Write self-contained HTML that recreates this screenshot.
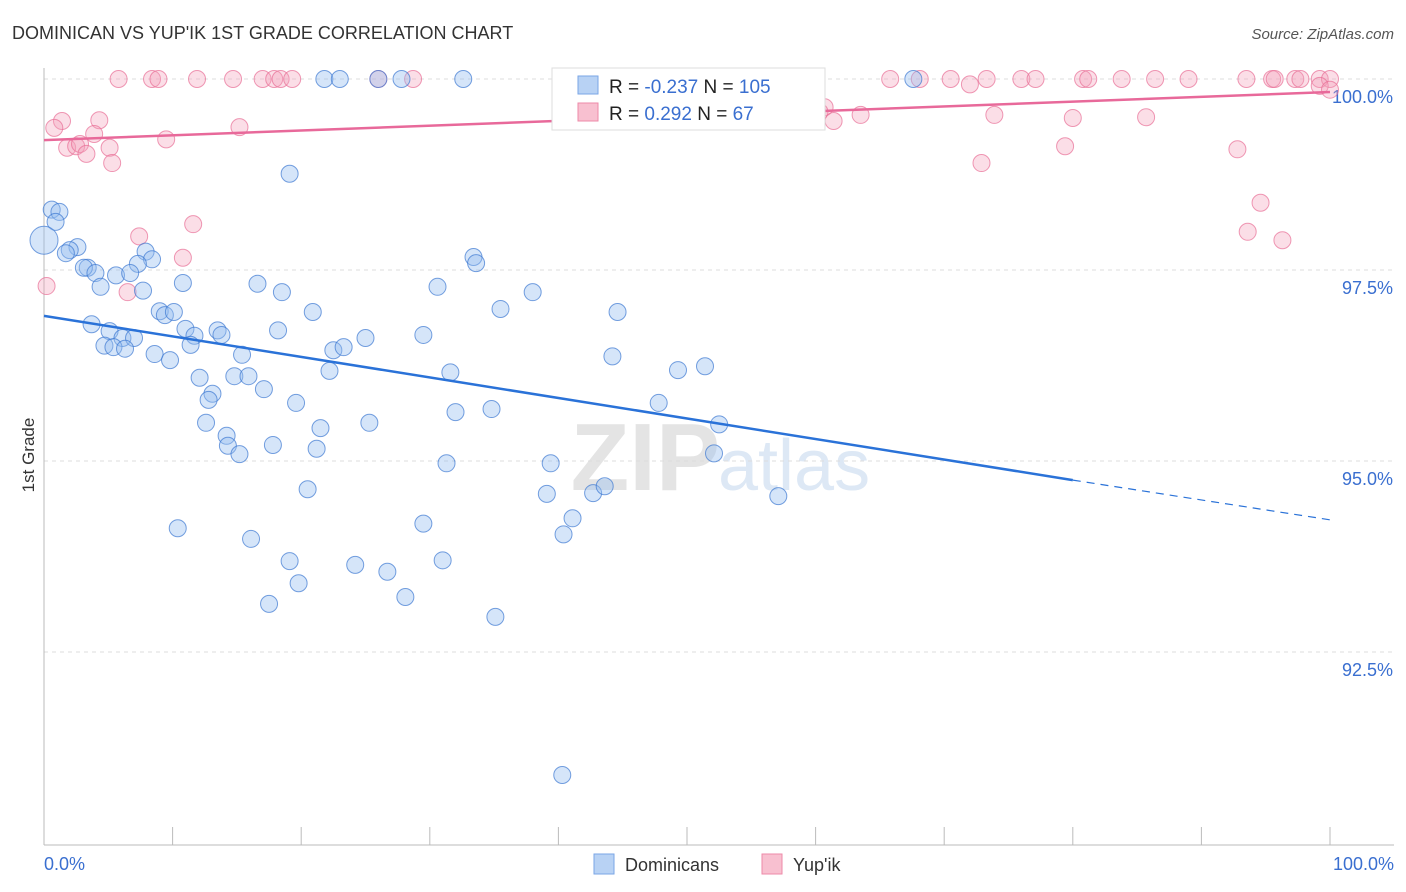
<!DOCTYPE html>
<html><head><meta charset="utf-8"><style>
body{margin:0;background:#fff;font-family:"Liberation Sans",sans-serif}
svg{display:block}
</style></head><body>
<svg id="chart" width="1406" height="892">
<text x="12" y="39" font-size="18" fill="#333">DOMINICAN VS YUP'IK 1ST GRADE CORRELATION CHART</text>
<text x="1394" y="39" font-size="15" fill="#555" font-style="italic" text-anchor="end">Source: ZipAtlas.com</text>
<text x="720" y="490" font-size="96" font-weight="bold" fill="#e4e4e4" text-anchor="end">ZIP</text>
<text x="718" y="490" font-size="72" fill="#dde8f5">atlas</text>
<g id="grid"></g>
<g id="axes"></g>
<g id="pts"></g>
<g id="trend"></g>
<text transform="translate(34,455) rotate(-90)" font-size="17" fill="#333" text-anchor="middle">1st Grade</text>
<text x="44" y="870" font-size="18" fill="#3a6fd0">0.0%</text>
<text x="1394" y="870" font-size="18" fill="#3a6fd0" text-anchor="end">100.0%</text>
<g>
<rect x="552" y="68" width="273" height="62" fill="#fff" stroke="#ddd"/>
<rect x="578" y="76" width="20" height="18" fill="#b8d2f4" stroke="#7aa6e6"/>
<rect x="578" y="103" width="20" height="18" fill="#f8c0d0" stroke="#ee8aa8"/>
<text x="609" y="93" font-size="19" fill="#222">R = <tspan fill="#3a6fd0">-0.237</tspan>   N = <tspan fill="#3a6fd0">105</tspan></text>
<text x="609" y="120" font-size="19" fill="#222">R =   <tspan fill="#3a6fd0">0.292</tspan>   N =   <tspan fill="#3a6fd0">67</tspan></text>
</g>
<g>
<rect x="594" y="854" width="20" height="20" fill="#b8d2f4" stroke="#7aa6e6"/>
<text x="625" y="871" font-size="18" fill="#333">Dominicans</text>
<rect x="762" y="854" width="20" height="20" fill="#f8c0d0" stroke="#ee8aa8"/>
<text x="793" y="871" font-size="18" fill="#333">Yup'ik</text>
</g>
</svg>
<script>
const yTicks=[100,97.5,95,92.5];
const yTickLabels=["100.0%","97.5%","95.0%","92.5%"];
const xTicks=[0,10,20,30,40,50,60,70,80,90,100];
const blueX=[21.8,23.0,26.0,27.8,32.6,67.6,19.1,0.6,1.2,0.9,0,2.6,2.0,1.7,7.9,8.4,7.3,3.4,3.1,4.0,5.6,6.7,4.4,7.7,10.8,16.6,18.5,33.4,33.6,30.6,38.0,3.7,9.0,9.4,10.1,20.9,35.5,44.6,5.1,6.1,7.0,11.0,11.7,13.5,13.8,18.2,25.0,29.5,4.7,5.4,6.3,11.4,8.6,9.8,15.4,22.5,23.3,44.2,22.2,31.6,49.3,51.4,12.1,14.8,15.9,17.1,13.1,12.8,19.6,32.0,34.8,47.8,52.5,12.6,21.5,25.3,14.2,14.3,15.2,17.8,21.2,31.3,39.4,52.1,20.5,39.1,42.7,43.6,57.1,10.4,29.5,41.1,40.4,16.1,19.1,31.0,24.2,26.7,19.8,17.5,28.1,35.1,40.3];
const blueY=[100,100,100,100,100,100,98.76,98.29,98.26,98.13,97.89,97.80,97.76,97.72,97.74,97.64,97.58,97.53,97.53,97.46,97.43,97.46,97.28,97.23,97.33,97.32,97.21,97.67,97.59,97.28,97.21,96.79,96.96,96.91,96.95,96.95,96.99,96.95,96.70,96.61,96.61,96.73,96.64,96.71,96.65,96.71,96.61,96.65,96.51,96.49,96.47,96.52,96.40,96.32,96.39,96.45,96.49,96.37,96.18,96.16,96.19,96.24,96.09,96.11,96.11,95.94,95.88,95.80,95.76,95.64,95.68,95.76,95.48,95.50,95.43,95.50,95.33,95.20,95.09,95.21,95.16,94.97,94.97,95.10,94.63,94.57,94.58,94.67,94.54,94.12,94.18,94.25,94.04,93.98,93.69,93.70,93.64,93.55,93.40,93.13,93.22,92.96,90.89];
const pinkX=[5.8,8.4,8.9,11.9,14.7,17.0,17.9,18.4,19.3,26.0,28.7,41.7,45.3,51.2,55.0,60.0,65.8,68.1,70.5,72.0,73.3,76.0,77.1,80.8,81.2,83.8,86.4,89.0,93.5,95.5,95.7,97.3,97.7,99.2,100,99.2,100,60.7,61.4,63.5,60.3,73.9,80.0,85.7,1.4,0.8,4.3,15.2,3.9,1.8,2.5,2.8,3.3,5.1,9.5,5.3,72.9,79.4,92.8,94.6,93.6,96.3,11.6,7.4,10.8,6.5,0.2];
const pinkY=[100,100,100,100,100,100,100,100,100,100,100,100,100,100,100,100,100,100,100,99.93,100,100,100,100,100,100,100,100,100,100,100,100,100,100,100,99.91,99.86,99.63,99.45,99.53,99.57,99.53,99.49,99.50,99.45,99.36,99.46,99.37,99.28,99.10,99.12,99.15,99.02,99.10,99.21,98.90,98.90,99.12,99.08,98.38,98.00,97.89,98.10,97.94,97.66,97.21,97.29];
const blueTrend=[[0,96.90],[80,94.75],[100,94.23]];
const pinkTrend=[[0,99.20],[100,99.83]];
const NS="http://www.w3.org/2000/svg";
const xs=v=>44+v*12.86, ys=v=>79+(100-v)*76.4;
function mk(tag,attrs,parent){const e=document.createElementNS(NS,tag);for(const k in attrs)e.setAttribute(k,attrs[k]);parent.appendChild(e);return e;}
const grid=document.getElementById('grid'),axes=document.getElementById('axes'),pts=document.getElementById('pts'),trend=document.getElementById('trend');
yTicks.forEach((t,i)=>{
 const l=mk('line',{x1:44,x2:1394,y1:ys(t),y2:ys(t),stroke:'#ddd','stroke-dasharray':'4,4'},grid);
 
 
 const tx=mk('text',{x:1393,y:ys(t)+24,'font-size':18,fill:'#3a6fd0','text-anchor':'end'},grid);
 tx.textContent=yTickLabels[i];
 
 
});
const ya=mk('line',{x1:44,x2:44,y1:68,y2:845,stroke:'#bbb'},axes);


const xa=mk('line',{x1:44,x2:1394,y1:845,y2:845,stroke:'#bbb'},axes);


xTicks.forEach(t=>{
 const l=mk('line',{x1:xs(t),x2:xs(t),y1:827,y2:845,stroke:'#bbb'},axes);
 
 
});
pinkX.forEach((x,i)=>{
 const c=mk('circle',{cx:xs(x),cy:ys(pinkY[i]),r:8.5,fill:'rgba(244,160,185,0.35)',stroke:'rgba(232,110,150,0.7)','stroke-width':1},pts);
 
 
});
blueX.forEach((x,i)=>{
 const c=mk('circle',{cx:xs(x),cy:ys(blueY[i]),r:(x===0?14:8.5),fill:'rgba(150,190,240,0.4)',stroke:'rgba(60,120,210,0.7)','stroke-width':1},pts);
 
 
});
const bl=mk('line',{x1:xs(blueTrend[0][0]),y1:ys(blueTrend[0][1]),x2:xs(blueTrend[1][0]),y2:ys(blueTrend[1][1]),stroke:'#2a72d8','stroke-width':2.5},trend);


const bd=mk('line',{x1:xs(blueTrend[1][0]),y1:ys(blueTrend[1][1]),x2:xs(blueTrend[2][0]),y2:ys(blueTrend[2][1]),stroke:'#2a72d8','stroke-width':1.2,'stroke-dasharray':'8,6'},trend);


const pl=mk('line',{x1:xs(pinkTrend[0][0]),y1:ys(pinkTrend[0][1]),x2:xs(pinkTrend[1][0]),y2:ys(pinkTrend[1][1]),stroke:'#e8699a','stroke-width':2.5},trend);


</script>
</body></html>
